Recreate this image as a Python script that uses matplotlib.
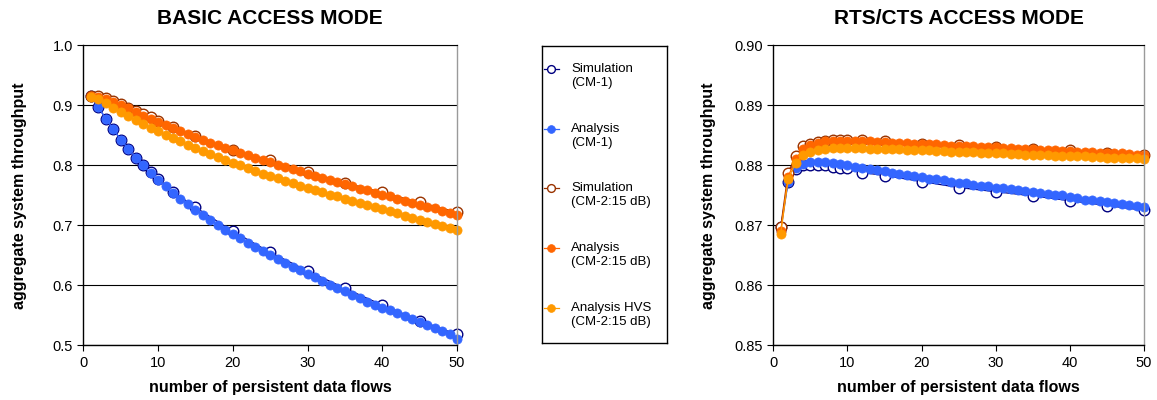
import matplotlib
matplotlib.use("Agg")
import matplotlib.pyplot as plt
from matplotlib.ticker import FormatStrFormatter

plt.rcParams['font.family'] = ['Liberation Sans', 'DejaVu Sans']

# x positions
n_flows = list(range(1, 51))
sim_flows = [1, 2, 3, 4, 5, 6, 7, 8, 9, 10, 12, 15, 20, 25, 30, 35, 40, 45, 50]

# BASIC ACCESS MODE
basic_sim_cm1 = [0.915, 0.897, 0.878, 0.860, 0.843, 0.828, 0.813, 0.800, 0.788, 0.777,
                 0.756, 0.730, 0.690, 0.655, 0.624, 0.595, 0.567, 0.541, 0.518]
basic_ana_cm1 = [0.915, 0.897, 0.878, 0.860, 0.843, 0.828, 0.813, 0.800, 0.787, 0.776,
                 0.765, 0.754, 0.744, 0.735, 0.726, 0.717, 0.709, 0.701, 0.693, 0.686,
                 0.678, 0.671, 0.664, 0.657, 0.650, 0.644, 0.637, 0.631, 0.625, 0.619,
                 0.613, 0.607, 0.601, 0.595, 0.590, 0.584, 0.579, 0.573, 0.568, 0.563,
                 0.558, 0.553, 0.548, 0.543, 0.538, 0.533, 0.528, 0.524, 0.519, 0.511]
basic_sim_cm2 = [0.916, 0.916, 0.912, 0.907, 0.902, 0.896, 0.890, 0.885, 0.880, 0.874,
                 0.864, 0.848, 0.826, 0.808, 0.789, 0.771, 0.755, 0.738, 0.722]
basic_ana_cm2 = [0.916, 0.914, 0.911, 0.906, 0.901, 0.895, 0.889, 0.883, 0.878, 0.872,
                 0.867, 0.862, 0.857, 0.852, 0.847, 0.843, 0.838, 0.834, 0.829, 0.825,
                 0.821, 0.817, 0.813, 0.809, 0.805, 0.801, 0.797, 0.794, 0.790, 0.786,
                 0.782, 0.779, 0.775, 0.772, 0.768, 0.765, 0.761, 0.758, 0.754, 0.751,
                 0.748, 0.744, 0.741, 0.737, 0.734, 0.731, 0.728, 0.724, 0.721, 0.718]
basic_hvs_cm2 = [0.913, 0.911, 0.904, 0.896, 0.889, 0.882, 0.875, 0.869, 0.863, 0.857,
                 0.851, 0.845, 0.840, 0.834, 0.829, 0.824, 0.819, 0.814, 0.809, 0.804,
                 0.800, 0.795, 0.791, 0.786, 0.782, 0.778, 0.774, 0.770, 0.766, 0.762,
                 0.758, 0.755, 0.751, 0.748, 0.744, 0.741, 0.737, 0.734, 0.730, 0.727,
                 0.723, 0.720, 0.716, 0.713, 0.709, 0.706, 0.702, 0.699, 0.695, 0.692]

# RTS/CTS ACCESS MODE
rts_sim_cm1 = [0.8697, 0.8773, 0.8794, 0.8800, 0.8801, 0.8801, 0.8800, 0.8798, 0.8796, 0.8795,
               0.8788, 0.8783, 0.8773, 0.8763, 0.8756, 0.8749, 0.8741, 0.8733, 0.8725]
rts_ana_cm1 = [0.8690, 0.8772, 0.8796, 0.8803, 0.8806, 0.8806, 0.8805, 0.8804, 0.8802, 0.8800,
               0.8798, 0.8796, 0.8794, 0.8792, 0.8790, 0.8788, 0.8786, 0.8784, 0.8782, 0.8780,
               0.8778, 0.8777, 0.8775, 0.8773, 0.8771, 0.8770, 0.8768, 0.8766, 0.8765, 0.8763,
               0.8762, 0.8760, 0.8759, 0.8757, 0.8756, 0.8754, 0.8753, 0.8751, 0.8750, 0.8748,
               0.8745, 0.8743, 0.8742, 0.8740, 0.8739, 0.8737, 0.8736, 0.8734, 0.8733, 0.8731]
rts_sim_cm2 = [0.8697, 0.8788, 0.8815, 0.8832, 0.8836, 0.8839, 0.8841, 0.8842, 0.8842, 0.8842,
               0.8842, 0.8841, 0.8836, 0.8834, 0.8830, 0.8828, 0.8825, 0.8821, 0.8817]
rts_ana_cm2 = [0.8690, 0.8781, 0.8810, 0.8827, 0.8834, 0.8838, 0.8840, 0.8841, 0.8841, 0.8841,
               0.8841, 0.8840, 0.8840, 0.8839, 0.8839, 0.8838, 0.8838, 0.8837, 0.8836, 0.8836,
               0.8835, 0.8835, 0.8834, 0.8833, 0.8833, 0.8832, 0.8832, 0.8831, 0.8830, 0.8830,
               0.8829, 0.8829, 0.8828, 0.8827, 0.8827, 0.8826, 0.8826, 0.8825, 0.8824, 0.8824,
               0.8823, 0.8823, 0.8822, 0.8821, 0.8821, 0.8820, 0.8820, 0.8819, 0.8818, 0.8818]
rts_hvs_cm2 = [0.8686, 0.8777, 0.8804, 0.8817, 0.8823, 0.8826, 0.8828, 0.8829, 0.8829, 0.8829,
               0.8829, 0.8829, 0.8828, 0.8828, 0.8828, 0.8827, 0.8827, 0.8826, 0.8826, 0.8825,
               0.8825, 0.8824, 0.8824, 0.8823, 0.8823, 0.8822, 0.8822, 0.8821, 0.8821, 0.8820,
               0.8820, 0.8819, 0.8819, 0.8818, 0.8818, 0.8817, 0.8817, 0.8816, 0.8816, 0.8815,
               0.8815, 0.8815, 0.8814, 0.8814, 0.8813, 0.8813, 0.8813, 0.8812, 0.8812, 0.8811]

labels = [("Simulation", "(CM-1)"), ("Analysis", "(CM-1)"), ("Simulation", "(CM-2:15 dB)"),
          ("Analysis", "(CM-2:15 dB)"), ("Analysis HVS", "(CM-2:15 dB)")]

# styles in drawing order: sim cm1, ana cm1, sim cm2, ana cm2, hvs
styles = [
    dict(color='#000080', marker='o', mfc='white', mec='#000080', ms=7.6, mew=1.0, lw=0.9),
    dict(color='#3366FF', marker='o', mfc='#3366FF', mec='#3366FF', ms=6.6, mew=0.5, lw=0.9),
    dict(color='#993300', marker='o', mfc='white', mec='#993300', ms=7.6, mew=1.0, lw=0.9),
    dict(color='#FF6600', marker='o', mfc='#FF6600', mec='#FF6600', ms=6.6, mew=0.5, lw=0.9),
    dict(color='#FF9900', marker='o', mfc='#FF9900', mec='#FF9900', ms=6.6, mew=0.5, lw=0.9),
]

W, H = 1157, 400
fig = plt.figure(figsize=(W / 100, H / 100), dpi=100)


def px_axes(x0, y0, x1, y1):
    return fig.add_axes([x0 / W, 1 - y1 / H, (x1 - x0) / W, (y1 - y0) / H])


def setup(ax, title, ylim, yticks, fmt, ylab_x):
    ax.set_xlim(0, 50)
    ax.set_ylim(*ylim)
    ax.set_xticks(range(0, 51, 10))
    ax.set_yticks(yticks)
    ax.yaxis.set_major_formatter(FormatStrFormatter(fmt))
    ax.grid(axis='y', color='black', lw=0.8)
    ax.set_axisbelow(True)
    for s in ['left', 'bottom']:
        ax.spines[s].set_color('black')
        ax.spines[s].set_linewidth(1.0)
    ax.spines['top'].set_color('black')
    ax.spines['top'].set_linewidth(0.8)
    ax.spines['right'].set_color('#9a9a9a')
    ax.spines['right'].set_linewidth(1.0)
    ax.tick_params(direction='out', length=4, width=0.8, labelsize=10.5, top=False, right=False)
    ax.set_xlabel("number of persistent data flows", fontsize=11.5, fontweight='bold')
    ax.set_ylabel("aggregate system throughput", fontsize=11.5, fontweight='bold')
    ax.xaxis.set_label_coords(0.5, -0.115)
    ax.yaxis.set_label_coords(ylab_x, 0.5)
    ax.text(0.5, 1.091, title, transform=ax.transAxes, ha='center', va='center',
            fontsize=15, fontweight='bold')


def draw(ax, series):
    for (xs, ys), st in zip(series, styles):
        ax.plot(xs, ys, clip_on=False, **st)


ax1 = px_axes(83.3, 45.3, 457, 345.3)
setup(ax1, "BASIC ACCESS MODE", (0.5, 1.0), [0.5, 0.6, 0.7, 0.8, 0.9, 1.0], '%.1f', -0.15)
draw(ax1, [(sim_flows, basic_sim_cm1), (n_flows, basic_ana_cm1), (sim_flows, basic_sim_cm2),
           (n_flows, basic_ana_cm2), (n_flows, basic_hvs_cm2)])

ax2 = px_axes(773.3, 45.3, 1144, 345.3)
setup(ax2, "RTS/CTS ACCESS MODE", (0.85, 0.90), [0.85, 0.86, 0.87, 0.88, 0.89, 0.90], '%.2f', -0.155)
draw(ax2, [(sim_flows, rts_sim_cm1), (n_flows, rts_ana_cm1), (sim_flows, rts_sim_cm2),
           (n_flows, rts_ana_cm2), (n_flows, rts_hvs_cm2)])

# legend box
leg_x0, leg_y0, leg_x1, leg_y1 = 542, 46, 666.7, 343.3
axl = px_axes(leg_x0, leg_y0, leg_x1, leg_y1)
axl.set_xlim(leg_x0, leg_x1)
axl.set_ylim(leg_y1, leg_y0)
axl.set_xticks([])
axl.set_yticks([])
for s in axl.spines.values():
    s.set_color('black')
    s.set_linewidth(1.0)
for i, ((l1, l2), st) in enumerate(zip(labels, styles)):
    y = 69 + 59.7 * i
    axl.plot([544, 559], [y, y], color=st['color'], lw=st['lw'])
    axl.plot([551.5], [y], ls='none', marker='o', mfc=st['mfc'], mec=st['mec'],
             ms=5.6, mew=st['mew'])
    axl.text(571, y, l1, ha='left', va='center', fontsize=9.5)
    axl.text(571, y + 14, l2, ha='left', va='center', fontsize=9.5)

fig.savefig("out.png", dpi=100)
